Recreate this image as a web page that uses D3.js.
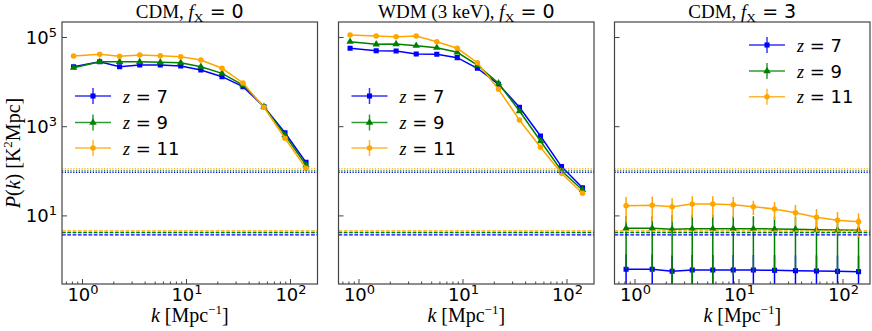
<!DOCTYPE html>
<html lang="en">
<head>
<meta charset="UTF-8">
<title>21cm power spectra</title>
<script src="https://cdnjs.cloudflare.com/ajax/libs/d3/7.8.5/d3.min.js"></script>
<style>
  body { margin: 0; background: #fff; }
</style>
</head>
<body>
<div id="chart"></div>
<script>
// k bins [Mpc^-1], shared by every panel
const kValues = [0.83, 1.48, 2.30, 3.59, 5.66, 8.9, 13.9, 22.2, 35.3, 56.2, 89.5, 142.6];
const redshifts = [7, 9, 11];
const seriesColors = ["#0000ff", "#008000", "#ffa500"];
const seriesMarkers = ["square", "triangle", "circle"];

// CDM, fX = 0
const cdmZ7  = [21600, 27900, 21600, 23500, 23500, 22400, 18200, 12900, 7690, 2740, 714, 155];
const cdmZ9  = [20500, 27900, 27900, 27900, 27100, 26500, 21600, 15300, 8400, 2740, 635, 135];
const cdmZ11 = [37500, 40900, 36900, 39400, 38100, 36100, 30500, 19900, 9300, 2650, 536, 114];

// WDM (3 keV), fX = 0
const wdmZ7  = [55800, 49300, 48500, 41600, 40900, 34400, 19900, 8690, 2650, 603, 124, 41.8];
const wdmZ9  = [78500, 68600, 69700, 63800, 57500, 45400, 23500, 9160, 2190, 466, 100, 37.2];
const wdmZ11 = [111000, 105000, 101600, 105000, 78500, 55800, 26500, 6710, 1380, 336, 87.9, 31.3];

// CDM, fX = 3 (with 1-sigma errors)
const heatZ7  = [0.62, 0.62, 0.558, 0.597, 0.597, 0.597, 0.597, 0.587, 0.575, 0.567, 0.558, 0.548];
const heatZ9  = [5.14, 5.14, 4.88, 5.03, 5.03, 5.03, 5.03, 4.95, 4.88, 4.78, 4.71, 4.63];
const heatZ11 = [16.5, 16.9, 15.7, 18.0, 18.0, 17.4, 15.7, 13.9, 11.5, 9.06, 7.76, 7.22];
const heatZ7Err  = [0.7, 0.7, 0.7, 0.7, 0.7, 0.7, 0.7, 0.7, 0.7, 0.7, 0.7, 0.7];
const heatZ9Err  = [4.5, 4.6, 5.2, 5.3, 5.3, 4.6, 4.5, 4.4, 4.3, 4.2, 4.2, 4.1];
const heatZ11Err = [9.5, 9.5, 8.5, 9.0, 9.0, 8.5, 5.5, 6.0, 5.5, 4.8, 4.2, 4.0];

// noise levels per redshift (z = 7, 9, 11)
const noiseDotted = [92.5, 100, 110];
const noiseDashed = [3.64, 4.09, 4.47];

const xTickValues = [1, 10, 100];
const yTickValues = [10, 1000, 100000];

const panels = [
  {title: ["CDM, ", "0"], series: [cdmZ7, cdmZ9, cdmZ11], errors: null, legend: "left"},
  {title: ["WDM (3 keV), ", "0"], series: [wdmZ7, wdmZ9, wdmZ11], errors: null, legend: "left"},
  {title: ["CDM, ", "3"], series: [heatZ7, heatZ9, heatZ11], errors: [heatZ7Err, heatZ9Err, heatZ11Err], legend: "right"}
];

const W = 872, H = 331;
const panelLefts = [62, 338.5, 614.5];
const panelW = 255.5;
const plotTop = 22, plotBottom = 284;
const serif = "'Liberation Serif', 'Times New Roman', serif";
const sans = "'DejaVu Sans', sans-serif";

const svg = d3.select("#chart").append("svg")
  .attr("width", W).attr("height", H);

const x = d3.scaleLog()
  .domain([Math.pow(10, -20 / 104), Math.pow(10, (panelW - 20) / 104)])
  .range([0, panelW]);
const y = d3.scaleLog()
  .domain([Math.pow(10, 5 - (plotBottom - 37) / 44.6), Math.pow(10, 5 + (37 - plotTop) / 44.6)])
  .range([plotBottom - plotTop, 0]);
const yMin = y.domain()[0];

function markerPath(type) {
  if (type === "square") return d3.symbol(d3.symbolSquare, 26)();
  if (type === "triangle") return d3.symbol(d3.symbolTriangle, 24)();
  return d3.symbol(d3.symbolCircle, 24)();
}

function powerLabel(sel, exp) {
  sel.append("tspan").text("10");
  sel.append("tspan").attr("dy", -7.5).attr("font-size", 13).text(exp);
}

panels.forEach((p, pi) => {
  const g = svg.append("g").attr("transform", `translate(${panelLefts[pi]},${plotTop})`);
  const ph = plotBottom - plotTop;

  g.append("clipPath").attr("id", "clip" + pi)
    .append("rect").attr("width", panelW).attr("height", ph);
  const plot = g.append("g").attr("clip-path", `url(#clip${pi})`);

  // data series: blue, green, orange
  p.series.forEach((vals, si) => {
    const col = seriesColors[si];
    if (p.errors) {
      const err = p.errors[si];
      plot.append("g").selectAll("line").data(vals).join("line")
        .attr("x1", (d, i) => x(kValues[i]))
        .attr("x2", (d, i) => x(kValues[i]))
        .attr("y1", (d, i) => y(Math.max(d - err[i], yMin * 0.5)))
        .attr("y2", (d, i) => y(d + err[i]))
        .attr("stroke", col).attr("stroke-width", 1.5);
    }
    const line = d3.line().x((d, i) => x(kValues[i])).y(d => y(d));
    plot.append("path").datum(vals)
      .attr("d", line).attr("fill", "none")
      .attr("stroke", col).attr("stroke-width", 1.5);
    plot.append("g").selectAll("path").data(vals).join("path")
      .attr("d", markerPath(seriesMarkers[si]))
      .attr("transform", (d, i) => `translate(${x(kValues[i])},${y(d)})`)
      .attr("fill", col);
  });

  // noise levels
  noiseDotted.forEach((v, si) => {
    plot.append("line").attr("x1", 0).attr("x2", panelW)
      .attr("y1", y(v)).attr("y2", y(v))
      .attr("stroke", seriesColors[si]).attr("stroke-width", 1.3)
      .attr("stroke-dasharray", "1.2,1.6");
  });
  noiseDashed.forEach((v, si) => {
    plot.append("line").attr("x1", 0).attr("x2", panelW)
      .attr("y1", y(v)).attr("y2", y(v))
      .attr("stroke", seriesColors[si]).attr("stroke-width", 1.3)
      .attr("stroke-dasharray", "3.7,1.6");
  });

  // ticks (pointing inward)
  const xAxis = g.append("g").attr("transform", `translate(0,${ph})`)
    .call(d3.axisTop(x).tickValues(xTickValues).tickSize(5).tickFormat(""));
  const minorX = [];
  [0.1, 1, 10, 100].forEach(dec => {
    for (let m = 2; m <= 9; m++) {
      const v = dec * m;
      if (v > x.domain()[0] && v < x.domain()[1]) minorX.push(v);
    }
  });
  g.append("g").attr("transform", `translate(0,${ph})`)
    .call(d3.axisTop(x).tickValues(minorX).tickSize(2.5).tickFormat(""))
    .call(a => a.select(".domain").remove());
  g.append("g")
    .call(d3.axisRight(y).tickValues(yTickValues).tickSize(5).tickFormat(""))
    .call(a => a.select(".domain").remove());
  g.selectAll(".tick line").attr("stroke", "#444").attr("stroke-width", 1);
  xAxis.select(".domain").remove();

  // frame
  g.append("rect").attr("width", panelW).attr("height", ph)
    .attr("fill", "none").attr("stroke", "#444").attr("stroke-width", 1.2);

  // x tick labels
  xTickValues.forEach((v, i) => {
    const t = g.append("text").attr("x", x(v) + 1).attr("y", ph + 17)
      .attr("text-anchor", "middle").attr("font-family", sans).attr("font-size", 18);
    powerLabel(t, String(i));
  });

  // y tick labels on first panel
  if (pi === 0) {
    yTickValues.forEach(v => {
      const t = g.append("text").attr("x", -5).attr("y", y(v) + 7)
        .attr("text-anchor", "end").attr("font-family", sans).attr("font-size", 18);
      powerLabel(t, String(Math.round(Math.log10(v))));
    });
  }

  // title
  const tt = g.append("text").attr("x", panelW / 2).attr("y", -4)
    .attr("text-anchor", "middle").attr("font-size", 19);
  tt.append("tspan").attr("font-family", serif).text(p.title[0]);
  tt.append("tspan").attr("font-family", serif).attr("font-style", "italic").text("f");
  tt.append("tspan").attr("font-family", serif).attr("font-size", 13.5).attr("dy", 4).text("X");
  tt.append("tspan").attr("font-family", sans).attr("dy", -4).text(" = " + p.title[1]);

  // x label
  const xl = g.append("text").attr("x", panelW / 2).attr("y", ph + 38)
    .attr("text-anchor", "middle").attr("font-family", serif).attr("font-size", 20);
  xl.append("tspan").attr("font-style", "italic").text("k");
  xl.append("tspan").text(" [Mpc");
  xl.append("tspan").attr("font-size", 13).attr("dy", -8).text("\u22121");
  xl.append("tspan").attr("dy", 8).text("]");

  // legend
  const lg = p.legend === "left"
    ? {hx: 13, rows: [74, 100.5, 126]}
    : {hx: 134.5, rows: [23, 49, 74.7]};
  redshifts.forEach((z, si) => {
    const ry = lg.rows[si];
    const col = seriesColors[si];
    const e = g.append("g").attr("transform", `translate(${lg.hx},${ry})`);
    e.append("line").attr("x1", 0).attr("x2", 36).attr("stroke", col)
      .attr("stroke-width", 1.5).attr("stroke-opacity", 0.8);
    e.append("line").attr("x1", 18).attr("x2", 18).attr("y1", -8).attr("y2", 8)
      .attr("stroke", col).attr("stroke-width", 1.5).attr("stroke-opacity", 0.8);
    e.append("path").attr("d", markerPath(seriesMarkers[si]))
      .attr("transform", "translate(18,0)").attr("fill", col);
    const t = e.append("text").attr("x", 48).attr("y", 6.5).attr("font-size", 18);
    t.append("tspan").attr("font-family", serif).attr("font-style", "italic").text("z");
    t.append("tspan").attr("font-family", sans).text(" = " + z);
  });
});

// y label
const yl = svg.append("text")
  .attr("transform", `translate(20,153) rotate(-90)`)
  .attr("text-anchor", "middle").attr("font-family", serif).attr("font-size", 20);
yl.append("tspan").attr("font-style", "italic").text("P");
yl.append("tspan").text("(");
yl.append("tspan").attr("font-style", "italic").text("k");
yl.append("tspan").text(") [K");
yl.append("tspan").attr("font-size", 13).attr("dy", -8).text("2");
yl.append("tspan").attr("dy", 8).text("Mpc]");
</script>
</body>
</html>
